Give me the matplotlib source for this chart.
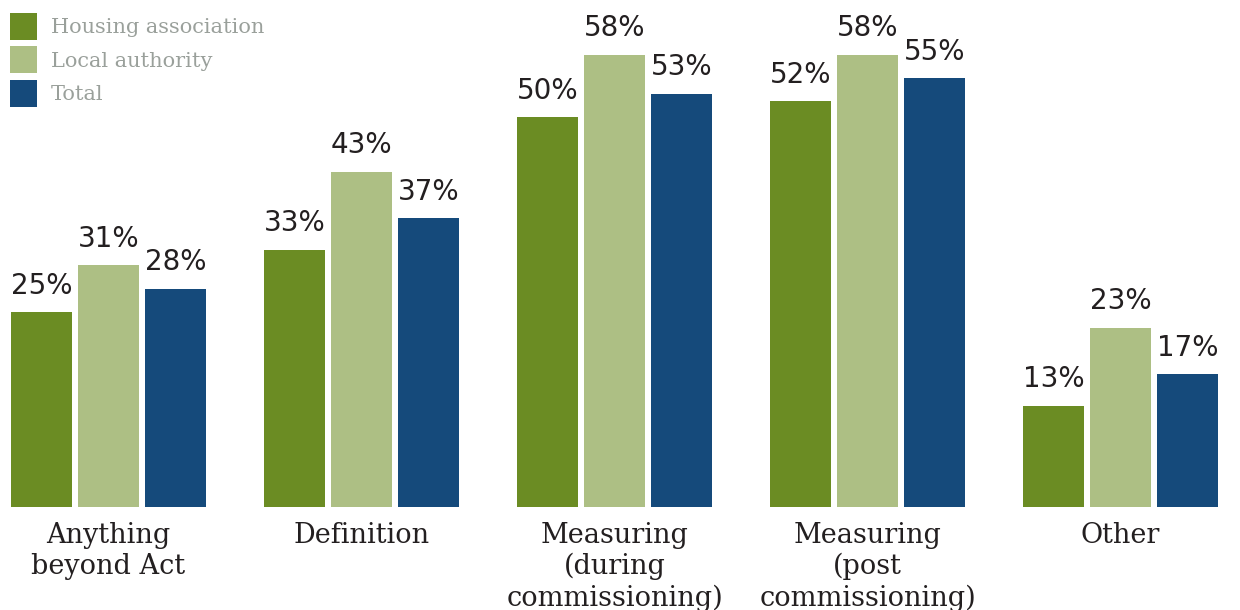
import numpy as np
import matplotlib.pyplot as plt
from matplotlib.patches import Patch

# Survey responses (%) by organisation type
categories = ['Anything\nbeyond Act', 'Definition', 'Measuring\n(during\ncommissioning)',
              'Measuring\n(post\ncommissioning)', 'Other']
series = ['Housing association', 'Local authority', 'Total']
housing = [25, 33, 50, 52, 13]
local = [31, 43, 58, 58, 23]
total = [28, 37, 53, 55, 17]
colors = ['#6b8c23', '#adbf84', '#154a7b']

TXT = '#231f20'
fig = plt.figure(figsize=(12.4, 6.1), dpi=100)
ax = fig.add_axes([0, 0, 1, 1])

x = np.arange(len(categories))
w = 0.241
step = 0.265
for k, (vals, col) in enumerate(zip([housing, local, total], colors)):
    xs = x + (k - 1) * step
    ax.bar(xs, vals, width=w, color=col, label=series[k])
    for xi, v in zip(xs, vals):
        ax.annotate(f'{v}%', (xi, v), xytext=(0, 9), textcoords='offset points',
                    ha='center', va='bottom', fontsize=20, color=TXT,
                    family='DejaVu Sans')

for xi, lab in zip(x, categories):
    ax.annotate(lab, (xi, 0), xytext=(0, -10.5), textcoords='offset points',
                ha='center', va='top', fontsize=19.5, color=TXT,
                family='DejaVu Serif', linespacing=1.2)

ax.set_xlim(-0.429, 4.472)
ax.set_ylim(-13.2, 65.0)
ax.axis('off')

handles = [Patch(facecolor=c, edgecolor='none') for c in colors]
leg = ax.legend(handles, series, loc='upper left', bbox_to_anchor=(10 / 1240, 1 - 13 / 610),
                bbox_transform=fig.transFigure, frameon=False,
                handlelength=1.296, handleheight=1.617, handletextpad=0.65,
                labelspacing=0.31, borderpad=0, borderaxespad=0,
                prop={'family': 'DejaVu Serif', 'size': 15})
for t in leg.get_texts():
    t.set_color('#9aa09b')

fig.savefig('out.png', dpi=100)
